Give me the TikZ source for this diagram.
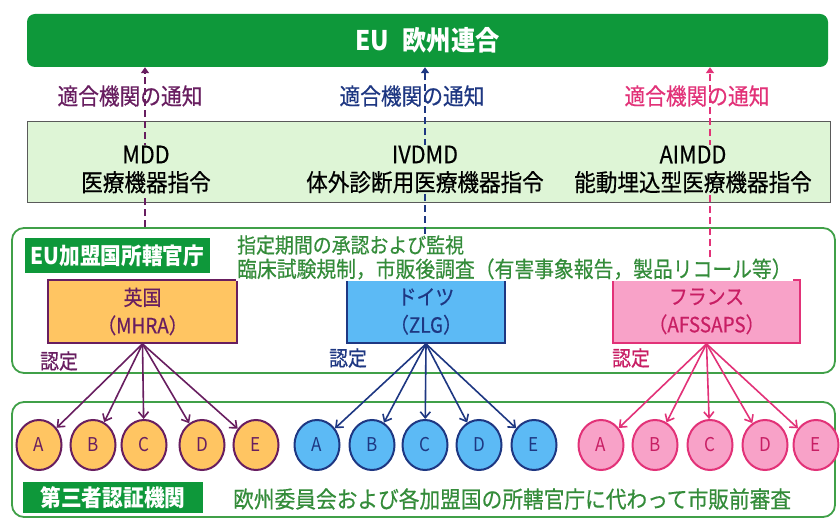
\documentclass[tikz,border=0pt]{standalone}
\usepackage{fontspec}
\setmainfont{Noto Sans CJK JP}[FakeStretch=0.9]
\newfontfamily\medfont{Noto Sans CJK JP}[FakeStretch=0.9,FakeBold=0.5]
\usetikzlibrary{arrows.meta,shapes.geometric}
\definecolor{eugreen}{RGB}{14,152,58}
\definecolor{dirfill}{RGB}{222,245,214}
\definecolor{dirdraw}{RGB}{90,90,90}
\definecolor{framegreen}{RGB}{64,160,72}
\definecolor{gtxt}{RGB}{52,140,58}
\definecolor{ukline}{RGB}{104,30,96}
\definecolor{ukfill}{RGB}{255,197,98}
\definecolor{deline}{RGB}{30,55,130}
\definecolor{defill}{RGB}{92,186,245}
\definecolor{frline}{RGB}{226,50,120}
\definecolor{frfill}{RGB}{248,162,200}
\definecolor{frtxt}{RGB}{200,30,100}
\begin{document}
\begin{tikzpicture}[x=1pt,y=-1pt,
  frame/.style={draw=framegreen,line width=1.8pt,rounded corners=12pt,inner sep=0},
  notice/.style={inner sep=0,font=\medfont\fontsize{23}{23}\selectfont},
  dirtext/.style={align=center,inner sep=1pt,fill=dirfill,font=\medfont\fontsize{24}{28}\selectfont},
  country/.style={draw,line width=1.8pt,minimum height=63pt,align=center,inner sep=0,font=\medfont\fontsize{21}{28}\selectfont},
  cb/.style={ellipse,draw,line width=2pt,minimum width=45pt,minimum height=50pt,inner sep=0,font=\fontsize{19}{19}\selectfont},
  gtext/.style={anchor=west,inner sep=1pt,fill=white,text=gtxt},
  glabel/.style={fill=eugreen,text=white,inner sep=0,font=\bfseries\fontsize{23}{23}\selectfont},
  nintei/.style={inner sep=0,font=\medfont\fontsize{21}{21}\selectfont},
  dline/.style={dash pattern=on 7pt off 4pt,line width=2.3pt,-{Triangle[length=6pt,width=8pt]}},
  arr/.style={line width=1.6pt,-{Straight Barb[length=6pt,width=10pt]}}]
\useasboundingbox (0,0) rectangle (840,518);
\fill[white] (0,0) rectangle (840,518);

% frames
\node[frame,minimum width=823pt,minimum height=145pt] (member) at (423.5,300.5) {};
\node[frame,minimum width=823pt,minimum height=115pt] (third) at (423.5,459.5) {};

% EU bar
\node[fill=eugreen,rounded corners=8pt,minimum width=801pt,minimum height=53pt,text=white,font=\bfseries\fontsize{27}{27}\selectfont] (eu) at (427.5,40.5) {EU\hspace{0.5em}欧州連合};

% directives box
\node[fill=dirfill,draw=dirdraw,line width=1pt,minimum width=803pt,minimum height=81pt] (dir) at (428.5,162.5) {};

% notices
\node[notice,text=ukline] (n1) at (130,96) {適合機関の通知};
\node[notice,text=deline] (n2) at (412,96) {適合機関の通知};
\node[notice,text=frline] (n3) at (697,96) {適合機関の通知};

% country boxes
\node[country,draw=ukline,fill=ukfill,text=ukline,minimum width=189pt] (uk) at (142.5,311.5) {英国\\（MHRA）};
\node[country,draw=deline,fill=defill,text=deline,minimum width=158pt] (de) at (426,311.5) {ドイツ\\（ZLG）};
\node[country,draw=frline,fill=frfill,text=frtxt,minimum width=187pt] (fr) at (706.5,311.5) {フランス\\（AFSSAPS）};

% green texts in member frame
\node[gtext,font=\medfont\fontsize{21}{21}\selectfont] (t1) at (236,245) {指定期間の承認および監視};
\node[gtext,font=\medfont\fontsize{22}{22}\selectfont] (t2) at (236,269) {臨床試験規制，市販後調査（有害事象報告，製品リコール等）};

% dashed notification lines
\draw[dline,ukline] (member.north -| 145,0) -- (eu.south -| 145,0);
\draw[dline,deline] (t1.north -| 425,0) -- (eu.south -| 425,0);
\draw[dline,frline] (t2.north -| 710,0) -- (eu.south -| 710,0);

% directive texts
\node[dirtext] (d1) at (146,169.5) {MDD\\医療機器指令};
\node[dirtext] (d2) at (425,169.5) {IVDMD\\体外診断用医療機器指令};
\node[dirtext] (d3) at (693,169.5) {AIMDD\\能動埋込型医療機器指令};

% labels
\node[glabel,minimum width=185pt,minimum height=35pt] (lab1) at (117.5,255.5) {EU加盟国所轄官庁};
\node[glabel,minimum width=180pt,minimum height=31pt] (lab2) at (113,497.5) {第三者認証機関};
\node[anchor=west,inner sep=0,text=gtxt,font=\medfont\fontsize{23}{23}\selectfont] (t3) at (233,499) {欧州委員会および各加盟国の所轄官庁に代わって市販前審査};

% 認定
\node[nintei,text=ukline] (r1) at (59,361) {認定};
\node[nintei,text=deline] (r2) at (348,358) {認定};
\node[nintei,text=frtxt] (r3) at (631,358) {認定};

% circles
\foreach \n/\x in {A/39,B/93,C/144,D/202,E/256}{
  \node[cb,draw=ukline,fill=ukfill,text=ukline] (u\n) at (\x,445) {\n};
  \draw[arr,ukline] (uk.south) -- (u\n);
}
\foreach \n/\x in {A/317,B/372,C/425,D/479,E/534}{
  \node[cb,draw=deline,fill=defill,text=deline] (g\n) at (\x,445) {\n};
  \draw[arr,deline] (de.south) -- (g\n);
}
\foreach \n/\x in {A/601,B/655,C/710,D/765,E/816}{
  \node[cb,draw=frline,fill=frfill,text=frtxt] (f\n) at (\x,445) {\n};
  \draw[arr,frline] (fr.south) -- (f\n);
}
\end{tikzpicture}
\end{document}
